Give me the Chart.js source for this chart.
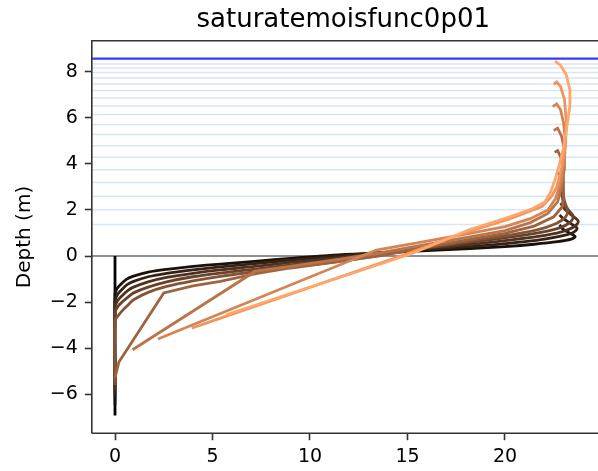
<!DOCTYPE html>
<html><head><meta charset="utf-8">
<script src="https://cdn.jsdelivr.net/npm/chart.js@4"></script>
<style>html,body{margin:0;padding:0;background:#fff;overflow:hidden}</style>
</head><body>
<canvas id="c" width="598" height="471"></canvas>
<script>
// ---- data ----
const chartTitle = "saturatemoisfunc0p01";
const yLabel = "Depth (m)";
const xTicks = [0, 5, 10, 15, 20];
const yTicks = [-6, -4, -2, 0, 2, 4, 6, 8];
const layerDepths = [1.37, 2.01, 2.59, 3.19, 3.74, 4.29, 4.78, 5.27, 5.71, 6.14, 6.51, 6.86, 7.18, 7.47, 7.73, 7.96, 8.16, 8.33];
const surfaceLevel = 8.57;
const groundLevel = 0;

const prof0X = [0, 0];
const prof0Depth = [0, -6.92];
const prof1X = [0,0,0.1,0.26,0.6,0.95,1.7,2.65,4.0,5.4,7.3,9.0,11.2,13.5,16.0,18.2,20.0,21.5,22.7,23.4,23.6,23.3,22.95,22.8];
const prof1Depth = [-6.45,-1.65,-1.42,-1.26,-1.0,-0.87,-0.7,-0.58,-0.45,-0.35,-0.22,-0.1,0.04,0.13,0.23,0.32,0.41,0.51,0.62,0.73,0.84,1.0,1.18,1.35];
const prof2X = [0,0,0.12,0.3,0.62,0.95,1.7,2.65,4.0,5.4,7.3,9.0,11.2,13.5,16.0,18.2,20.0,21.6,22.8,23.5,23.7,23.35,23.0,22.8];
const prof2Depth = [-6.1,-1.95,-1.68,-1.5,-1.24,-1.1,-0.9,-0.75,-0.6,-0.47,-0.32,-0.18,-0.02,0.14,0.29,0.41,0.54,0.68,0.85,1.02,1.2,1.42,1.62,1.78];
const prof3X = [0,0,0.14,0.33,0.65,0.95,1.7,2.65,4.0,5.4,7.3,9.0,11.2,13.5,16.0,18.2,20.0,21.7,22.9,23.55,23.76,23.4,23.05,22.85];
const prof3Depth = [-5.8,-2.2,-1.93,-1.75,-1.5,-1.35,-1.12,-0.93,-0.75,-0.6,-0.44,-0.28,-0.1,0.11,0.33,0.5,0.67,0.85,1.05,1.27,1.5,1.78,2.05,2.3];
const prof4X = [0,0,0.16,0.36,0.68,0.95,1.7,2.65,4.0,5.4,7.3,9.0,11.2,13.5,16.0,18.2,20.0,21.7,22.8,23.35,23.5,23.25,23.0,22.9,22.8];
const prof4Depth = [-5.5,-2.45,-2.18,-2.0,-1.77,-1.6,-1.35,-1.12,-0.9,-0.74,-0.56,-0.38,-0.18,0.07,0.36,0.59,0.79,1.0,1.22,1.47,1.72,2.0,2.35,2.7,3.0];
const prof5X = [0,0,0.2,0.4,0.7,0.95,1.7,2.65,4.0,5.4,7.3,9.0,11.2,13.5,16.0,18.2,20.0,21.6,22.6,23.1,23.2,23.05,22.95,22.9,22.8,22.6];
const prof5Depth = [-5.6,-2.8,-2.55,-2.35,-2.1,-1.9,-1.58,-1.32,-1.08,-0.88,-0.67,-0.48,-0.26,0.02,0.37,0.65,0.88,1.12,1.4,1.68,1.95,2.4,2.9,3.3,3.55,3.6];
const prof6X = [0,0.2,2.5,4.0,5.4,7.3,9.0,11.2,13.5,16.0,18.2,20.0,21.5,22.5,22.95,23.0,23.0,22.95,22.85,22.7,22.55];
const prof6Depth = [-5.3,-4.6,-1.6,-1.3,-1.1,-0.75,-0.52,-0.28,0.0,0.4,0.72,0.98,1.3,1.7,2.15,2.7,3.3,3.9,4.3,4.58,4.5];
const prof7X = [0.9,7.2,9.0,11.2,13.5,16.0,18.2,20.0,21.3,22.2,22.7,22.9,23.05,23.05,22.9,22.7,22.5];
const prof7Depth = [-4.07,-0.66,-0.45,-0.18,0.12,0.5,0.83,1.1,1.45,1.85,2.35,3.0,3.8,4.6,5.2,5.55,5.45];
const prof8X = [2.2,13.4,16.0,18.2,20.0,21.3,22.2,22.6,22.85,23.05,23.1,23.0,22.85,22.65,22.45];
const prof8Depth = [-3.6,0.26,0.65,0.98,1.28,1.62,2.0,2.5,3.2,4.2,5.0,5.8,6.35,6.6,6.48];
const prof9X = [3.93,14.8,17.7,20.2,21.9,22.4,22.65,22.9,23.1,23.15,23.05,22.85,22.65,22.5];
const prof9Depth = [-3.13,0.04,0.95,1.6,2.15,2.6,3.0,3.8,4.8,5.8,6.8,7.35,7.55,7.45];
const prof10X = [5.7,15.2,18.2,20.25,21.4,22.05,22.35,22.6,22.8,23.0,23.2,23.33,23.33,23.15,22.85,22.56];
const prof10Depth = [-2.55,0.1,1.15,1.7,2.05,2.35,2.8,3.4,4.0,4.7,5.75,6.5,7.2,7.85,8.28,8.46];

// ---- axis limits ----
const xMin = -1.19, xMax = 24.77, yMin = -7.69, yMax = 9.34;
const titleRightValue = 24.6; // right end of the span the title is centred on

const profiles = [
  [prof0X, prof0Depth], [prof1X, prof1Depth], [prof2X, prof2Depth], [prof3X, prof3Depth],
  [prof4X, prof4Depth], [prof5X, prof5Depth], [prof6X, prof6Depth], [prof7X, prof7Depth],
  [prof8X, prof8Depth], [prof9X, prof9Depth], [prof10X, prof10Depth]
];

function copper(t) {
  const r = Math.min(1, 1.25 * t), g = 0.7812 * t, b = 0.4975 * t;
  return `rgb(${Math.round(r*255)},${Math.round(g*255)},${Math.round(b*255)})`;
}
const zip = (xs, ys) => xs.map((x, i) => ({x, y: ys[i]}));

const datasets = [];
layerDepths.forEach(d => datasets.push({
  data: [{x: xMin, y: d}, {x: xMax, y: d}],
  borderColor: '#d8e5f2', borderWidth: 1.5, order: 1000
}));
datasets.push({data: [{x: xMin, y: groundLevel}, {x: xMax, y: groundLevel}], borderColor: '#8f8f8f', borderWidth: 2, order: 999});
datasets.push({data: [{x: xMin, y: surfaceLevel}, {x: xMax, y: surfaceLevel}], borderColor: 'rgba(20,20,255,0.85)', borderWidth: 2.2, order: 998});
profiles.forEach(([xs, ys], i) => datasets.push({
  data: zip(xs, ys),
  borderColor: copper(i / 12),
  borderWidth: 2.8,
  tension: (i >= 1 && i <= 5) ? 0.3 : 0,
  order: 100 - i
}));
datasets.forEach(d => { d.showLine = true; d.pointRadius = 0; d.pointHoverRadius = 0; d.fill = false; });

const FONT = 'DejaVu Sans';
const fmt = v => v < 0 ? '\u2212' + Math.abs(v) : String(v);

const spines = {
  id: 'spines',
  afterDatasetsDraw(chart) {
    const {ctx, chartArea: a} = chart;
    ctx.save();
    ctx.strokeStyle = '#333';
    ctx.lineWidth = 1.6;
    ctx.beginPath();
    ctx.moveTo(a.left, a.bottom); ctx.lineTo(a.left, a.top); ctx.lineTo(a.right + 5, a.top);
    ctx.moveTo(a.left, a.bottom); ctx.lineTo(a.right + 5, a.bottom);
    ctx.stroke();
    ctx.restore();
  }
};
const titleShift = {
  id: 'titleShift',
  afterLayout(chart) {
    const tb = chart.titleBlock;
    if (!tb) return;
    tb.left = chart.chartArea.left;
    tb.right = chart.scales.x.getPixelForValue(titleRightValue);
  }
};

new Chart(document.getElementById('c'), {
  type: 'scatter',
  data: {datasets},
  plugins: [spines, titleShift],
  options: {
    responsive: false, animation: false, devicePixelRatio: 1,
    layout: {padding: 0},
    plugins: {
      legend: {display: false}, tooltip: {enabled: false},
      title: {display: true, text: chartTitle, color: '#000', font: {family: FONT, size: 26, weight: 'normal'}, padding: {top: 5, bottom: 4.6}}
    },
    scales: {
      x: {
        type: 'linear', min: xMin, max: xMax,
        afterBuildTicks: s => { s.ticks = xTicks.map(v => ({value: v})); },
        afterFit: s => { s.height = 37.8; },
        grid: {drawOnChartArea: false, drawTicks: true, tickLength: 7, tickColor: '#333', tickWidth: 1.6},
        border: {display: false},
        ticks: {font: {family: FONT, size: 19}, color: '#000', padding: 5, maxRotation: 0, autoSkip: false, callback: v => fmt(v)}
      },
      y: {
        type: 'linear', min: yMin, max: yMax,
        afterBuildTicks: s => { s.ticks = yTicks.map(v => ({value: v})); },
        afterFit: s => { s.width = 91.8; },
        grid: {drawOnChartArea: false, drawTicks: true, tickLength: 7, tickColor: '#333', tickWidth: 1.6},
        border: {display: false},
        title: {display: true, text: yLabel, color: '#000', font: {family: FONT, size: 20}, padding: {top: 13, bottom: 0}},
        ticks: {font: {family: FONT, size: 19}, color: '#000', padding: 7, autoSkip: false, callback: v => fmt(v)}
      }
    }
  }
});
</script></body></html>
